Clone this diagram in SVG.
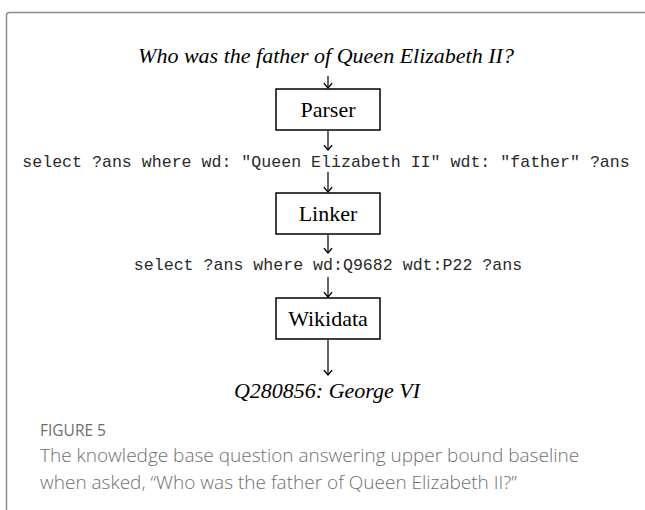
<svg xmlns="http://www.w3.org/2000/svg" width="645" height="510" viewBox="0 0 645 510">
  <defs>
    <marker id="ah" viewBox="0 0 10 10" refX="9" refY="5" markerWidth="10" markerHeight="10" markerUnits="userSpaceOnUse" orient="auto">
      <path d="M4.5,1.2 L9,5 L4.5,8.8" fill="none" stroke="#000" stroke-width="1.2" stroke-linecap="round" stroke-linejoin="round"/>
    </marker>
    <style>
      .frame { fill: none; stroke: #8c8c8c; stroke-width: 1.5; }
      .box { fill: #fff; stroke: #000; stroke-width: 1.5; }
      .conn line { stroke: #000; stroke-width: 1.2; marker-end: url(#ah); }
      .serif { font-family: "Liberation Serif", "Times New Roman", serif; font-size: 22px; fill: #000; text-anchor: middle; }
      .ital { font-style: italic; }
      .mono { font-family: "Liberation Mono", "Courier New", monospace; font-size: 16.6px; fill: #2a2a2a; text-anchor: middle; }
      .cap { font-family: "Open Sans", "Noto Sans", sans-serif; fill: #6f6f6f; }
    </style>
  </defs>

  <rect class="frame" x="6.5" y="12.5" width="700" height="600" rx="3"/>

  <g id="question">
    <text class="serif ital" x="326" y="63">Who was the father of Queen Elizabeth II?</text>
  </g>

  <g id="parser">
    <rect class="box" x="276" y="89" width="104" height="41"/>
    <text class="serif" x="328" y="117">Parser</text>
  </g>

  <g id="query1">
    <text class="mono" x="326" y="167">select ?ans where wd: "Queen Elizabeth II" wdt: "father" ?ans</text>
  </g>

  <g id="linker">
    <rect class="box" x="276" y="193" width="104" height="41"/>
    <text class="serif" x="328" y="221">Linker</text>
  </g>

  <g id="query2">
    <text class="mono" x="328" y="270">select ?ans where wd:Q9682 wdt:P22 ?ans</text>
  </g>

  <g id="wikidata">
    <rect class="box" x="276" y="298" width="104" height="41"/>
    <text class="serif" x="328" y="326">Wikidata</text>
  </g>

  <g id="answer">
    <text class="serif ital" x="327" y="398">Q280856: George VI</text>
  </g>

  <g id="connectors" class="conn">
    <line x1="328" y1="76" x2="328" y2="88"/>
    <line x1="328" y1="131" x2="328" y2="150"/>
    <line x1="328" y1="172" x2="328" y2="192"/>
    <line x1="328" y1="235" x2="328" y2="253"/>
    <line x1="328" y1="277" x2="328" y2="297"/>
    <line x1="328" y1="340" x2="328" y2="375"/>
  </g>

  <g id="caption">
    <text class="cap" x="40" y="436" font-size="15.5" font-weight="400" fill="#7a7a7a">FIGURE 5</text>
    <text class="cap" x="40" y="462" font-size="19" font-weight="300">The knowledge base question answering upper bound baseline</text>
    <text class="cap" x="40" y="489" font-size="19" font-weight="300">when asked, “Who was the father of Queen Elizabeth II?”</text>
  </g>
</svg>
